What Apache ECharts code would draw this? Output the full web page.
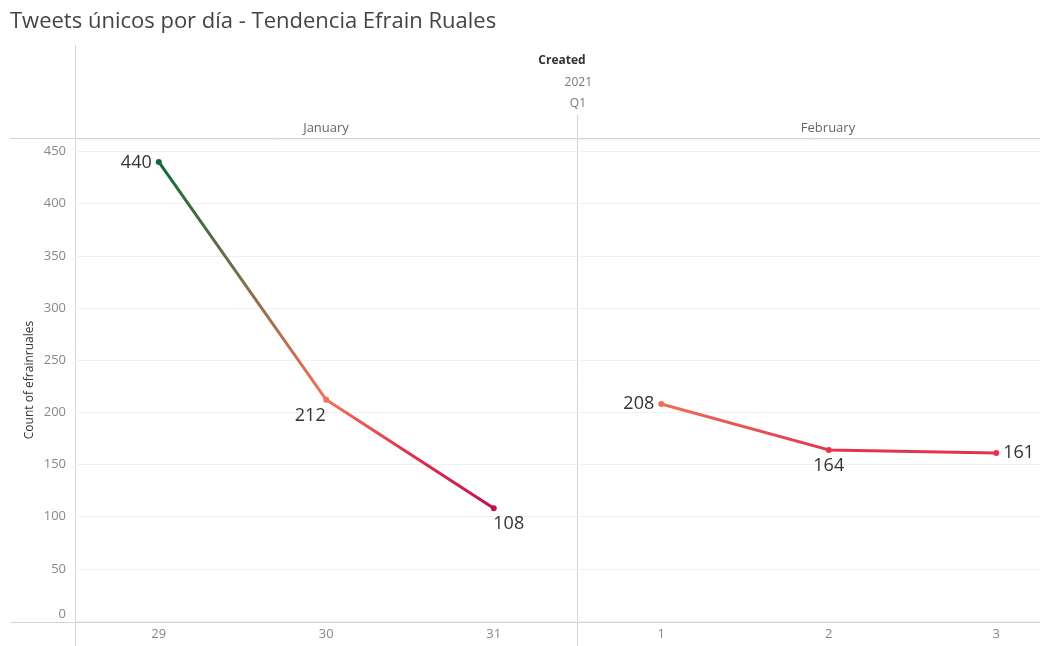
<!DOCTYPE html>
<html><head><meta charset="utf-8">
<script src="https://cdn.jsdelivr.net/npm/echarts@6/dist/echarts.min.js"></script>
<style>html,body{margin:0;padding:0;background:#fff;overflow:hidden;width:1040px;height:646px}#c{width:1080px;height:646px}</style>
</head><body><div id="c"></div>
<script>
const days = ['29','30','31','1','2','3'];
const months = ['January','February'];
const janValues = [440, 212, 108, '-', '-', '-'];
const febValues = ['-', '-', '-', 208, 164, 161];
const yTicks = [0, 50, 100, 150, 200, 250, 300, 350, 400, 450];
const titleText = 'Tweets únicos por día - Tendencia Efrain Ruales';
const yTitle = 'Count of efrainruales';

// colour anchors (value -> colour) for the continuous colour legend
const colorAnchors = [[108,'#c0114b'],[161,'#e6304b'],[212,'#f2725a'],[440,'#0d6b3c']];
function hex(c){return [parseInt(c.slice(1,3),16),parseInt(c.slice(3,5),16),parseInt(c.slice(5,7),16)];}
function colorAt(v){
  for(let i=0;i<colorAnchors.length-1;i++){
    const [a,ca]=colorAnchors[i],[b,cb]=colorAnchors[i+1];
    if(v<=b){const t=(v-a)/(b-a);const x=hex(ca),y=hex(cb);
      return 'rgb('+x.map((q,k)=>Math.round(q+(y[k]-q)*t)).join(',')+')';}
  }
  return colorAnchors[colorAnchors.length-1][1];
}
const cMin=108,cMax=440,steps=84;
const ramp=[];for(let i=0;i<=steps;i++){ramp.push(colorAt(cMin+(cMax-cMin)*i/steps));}

const chart = echarts.init(document.getElementById('c'));
const FONT='"Open Sans", sans-serif';
const lbl = (pos, off) => ({show:true, position:pos, offset:off||[0,0], distance:4, color:'#333', fontSize:18, fontFamily:FONT});
function janLabel(p){return [lbl('left',[0,1]),lbl('bottom',[-16,0]),lbl('bottom',[15,0])][p];}
function febLabel(p){return [lbl('left'),lbl('bottom'),lbl('right')][p];}

chart.setOption({
  animation:false,
  textStyle:{fontFamily:FONT},
  grid:{left:75, top:139, width:1005, height:482, containLabel:false},
  xAxis:{type:'category', data:days, boundaryGap:true,
    axisLine:{show:false}, axisTick:{show:false},
    axisLabel:{color:'#888', fontSize:13, margin:7}},
  yAxis:{type:'value', min:0, max:462, interval:50,
    axisLine:{show:false}, axisTick:{show:false},
    axisLabel:{color:'#888', fontSize:13, margin:9, showMaxLabel:false,
      formatter:v=>yTicks.includes(v)?String(v):'', verticalAlignMinLabel:'bottom'},
    splitLine:{lineStyle:{color:'#f0f0f0', width:1}}},
  visualMap:{show:false, type:'continuous', dimension:1, min:cMin, max:cMax, seriesIndex:[0,1], inRange:{color:ramp}},
  series:[
    {type:'line', data:janValues.map((v,i)=>i<3?{value:v,label:janLabel(i)}:v), symbol:'circle', symbolSize:6,
      lineStyle:{width:3}, label:{show:true}},
    {type:'line', data:febValues.map((v,i)=>i>=3?{value:v,label:febLabel(i-3)}:v), symbol:'circle', symbolSize:6,
      lineStyle:{width:3}, label:{show:true}}
  ],
  graphic:[
    {type:'text', left:10, top:11, style:{text:titleText, fontSize:22, fontFamily:FONT, fill:'#444'}},
    {type:'text', x:562, y:61, style:{text:'Created', fontSize:12, fontWeight:'bold', fontFamily:FONT, fill:'#333', align:'center', verticalAlign:'middle'}},
    {type:'text', x:592, y:83, style:{text:'2021', fontSize:12, fontFamily:FONT, fill:'#777', align:'right', verticalAlign:'middle'}},
    {type:'text', x:586, y:104, style:{text:'Q1', fontSize:12, fontFamily:FONT, fill:'#777', align:'right', verticalAlign:'middle'}},
    {type:'text', x:326, y:128, style:{text:months[0], fontSize:13, fontFamily:FONT, fill:'#666', align:'center', verticalAlign:'middle'}},
    {type:'text', x:828, y:128, style:{text:months[1], fontSize:13, fontFamily:FONT, fill:'#666', align:'center', verticalAlign:'middle'}},
    {type:'text', x:30, y:380, rotation:Math.PI/2, style:{text:yTitle, fontSize:12, fontFamily:FONT, fill:'#333', align:'center', verticalAlign:'middle'}},
    {type:'line', shape:{x1:10,y1:138.5,x2:1080,y2:138.5}, style:{stroke:'#d4d4d4', lineWidth:1}},
    {type:'line', shape:{x1:10,y1:622.5,x2:1080,y2:622.5}, style:{stroke:'#d4d4d4', lineWidth:1}},
    {type:'line', shape:{x1:75.5,y1:45,x2:75.5,y2:646}, style:{stroke:'#d4d4d4', lineWidth:1}},
    {type:'line', shape:{x1:577.5,y1:115,x2:577.5,y2:646}, style:{stroke:'#d4d4d4', lineWidth:1}}
  ]
});
</script></body></html>
